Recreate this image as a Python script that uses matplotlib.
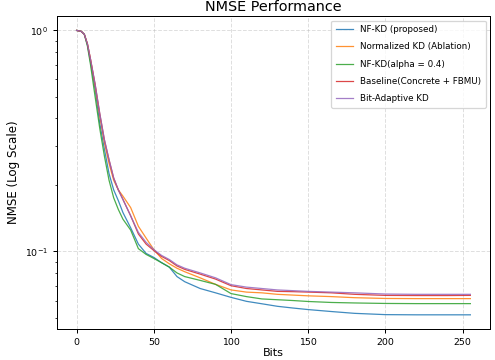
import matplotlib
matplotlib.use("Agg")
import matplotlib.pyplot as plt

bits = [0, 3, 5, 7, 9, 12, 15, 18, 21, 24, 27, 30, 35, 40, 45, 50, 55, 60, 65,
        70, 80, 90, 100, 110, 120, 130, 140, 150, 165, 180, 200, 220, 240, 255]

nfkd = [1.0, 0.99, 0.96, 0.86, 0.72, 0.54, 0.38, 0.29, 0.225, 0.19, 0.17, 0.15,
        0.128, 0.108, 0.098, 0.094, 0.089, 0.085, 0.077, 0.073, 0.068, 0.065,
        0.062, 0.0595, 0.058, 0.0565, 0.0555, 0.0546, 0.0535, 0.0525, 0.0518,
        0.0517, 0.0517, 0.0517]
norm_kd = [1.0, 0.99, 0.96, 0.87, 0.74, 0.56, 0.41, 0.31, 0.25, 0.21, 0.19, 0.178,
           0.158, 0.13, 0.115, 0.102, 0.093, 0.088, 0.084, 0.081, 0.076, 0.071,
           0.067, 0.0655, 0.065, 0.064, 0.0635, 0.063, 0.0625, 0.0618, 0.0613,
           0.0612, 0.0612, 0.0612]
nfkd_alpha = [1.0, 0.99, 0.96, 0.85, 0.70, 0.50, 0.36, 0.27, 0.21, 0.175, 0.155,
              0.14, 0.125, 0.103, 0.097, 0.093, 0.089, 0.085, 0.080, 0.077, 0.074,
              0.071, 0.0645, 0.0625, 0.061, 0.0605, 0.06, 0.0594, 0.0588, 0.0585,
              0.0582, 0.0581, 0.0581, 0.0581]
baseline = [1.0, 0.99, 0.96, 0.87, 0.74, 0.57, 0.42, 0.32, 0.26, 0.215, 0.19,
            0.172, 0.145, 0.12, 0.108, 0.101, 0.095, 0.091, 0.086, 0.083, 0.079,
            0.075, 0.070, 0.068, 0.067, 0.066, 0.0658, 0.0655, 0.065, 0.064,
            0.0633, 0.0632, 0.0632, 0.0633]
bit_adaptive = [1.0, 0.99, 0.96, 0.87, 0.74, 0.57, 0.42, 0.32, 0.26, 0.215, 0.19,
                0.172, 0.145, 0.122, 0.11, 0.102, 0.096, 0.092, 0.087, 0.084,
                0.080, 0.076, 0.0708, 0.069, 0.068, 0.067, 0.0665, 0.066, 0.0655,
                0.065, 0.0642, 0.064, 0.064, 0.064]

labels = ["NF-KD (proposed)", "Normalized KD (Ablation)", "NF-KD(alpha = 0.4)",
          "Baseline(Concrete + FBMU)", "Bit-Adaptive KD"]
series = [nfkd, norm_kd, nfkd_alpha, baseline, bit_adaptive]

fig = plt.figure(figsize=(5.5, 4), dpi=90)

for values, label in zip(series, labels):
    plt.plot(bits, values, label=label, linewidth=1.0, alpha=0.85)

plt.yscale("log")
plt.title("NMSE Performance", fontsize=11.5, pad=4)
plt.xlabel("Bits", fontsize=9, labelpad=1)
plt.ylabel("NMSE (Log Scale)", fontsize=9.5)
plt.xticks(fontsize=7.5)
plt.yticks(fontsize=7.5)
plt.grid(True, which="major", linestyle="--", alpha=0.4)
plt.legend(fontsize=7, loc="upper right", labelspacing=0.95, borderpad=0.5)
plt.subplots_adjust(left=0.115, right=0.99, top=0.955, bottom=0.086)

plt.savefig("out.png", dpi=90)
